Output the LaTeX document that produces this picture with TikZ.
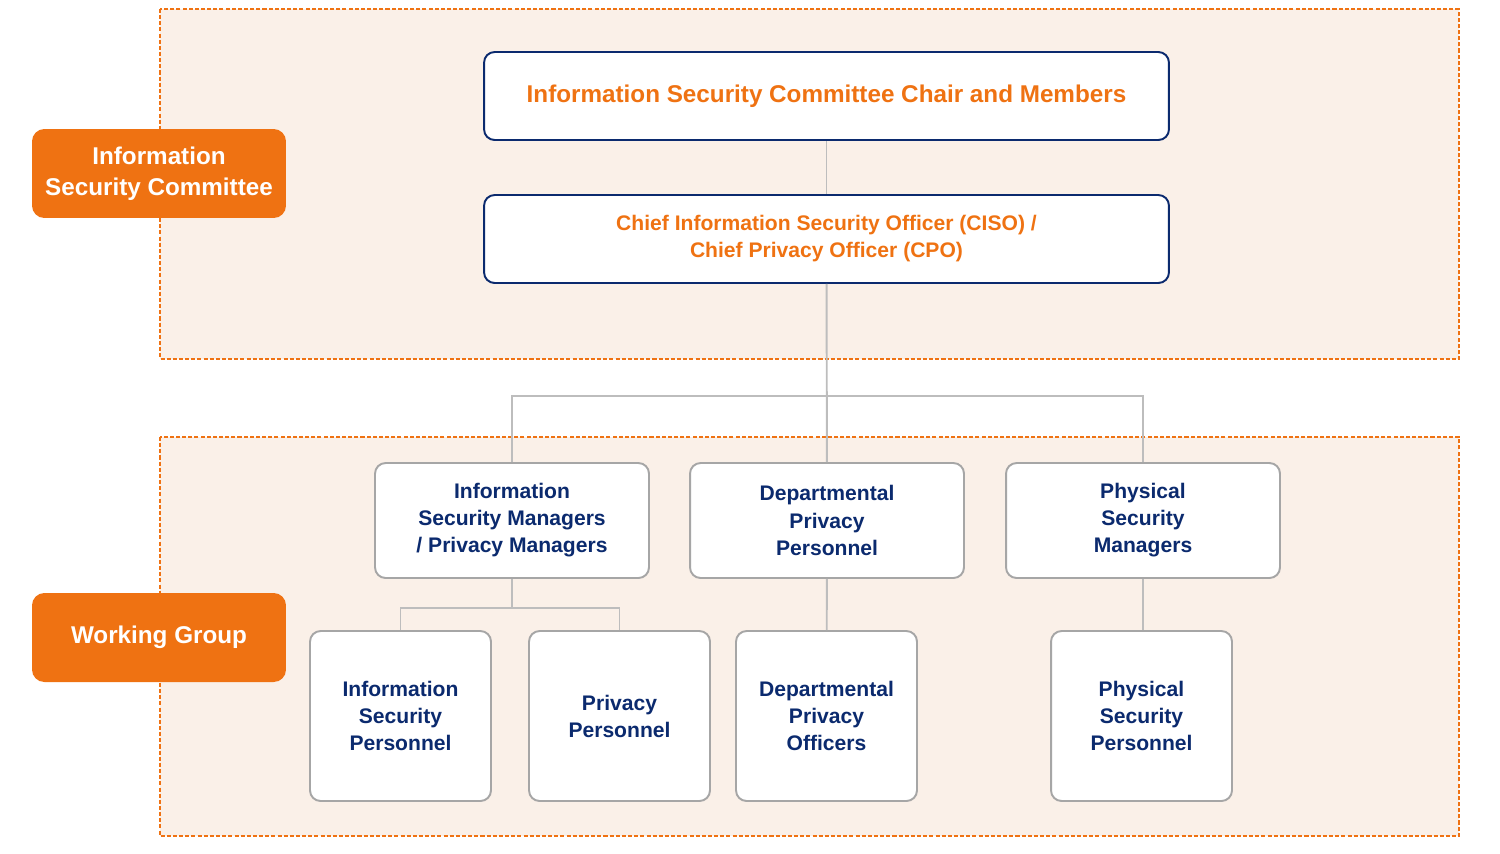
\documentclass[tikz,border=0pt]{standalone}
\usepackage{fontspec}
\setmainfont{Liberation Sans}
\definecolor{isorange}{HTML}{EF7212}
\definecolor{isnavy}{HTML}{0B2A6E}
\definecolor{isband}{HTML}{FAF0E8}
\definecolor{isgray}{HTML}{A6A6A6}
\definecolor{islink}{HTML}{BDBDBD}
\begin{document}
\begin{tikzpicture}[x=0.02cm, y=-0.02cm,
    band/.style={draw=isorange, fill=isband, dash pattern=on 2.3pt off 1.2pt, line width=0.6pt},
    tag/.style={fill=isorange, text=white, rounded corners=7pt, minimum width=5.08cm,
      minimum height=1.78cm, align=center, font=\bfseries\fontsize{13.8}{17.5}\selectfont},
    headbox/.style={draw=isnavy, fill=white, line width=1.1pt, rounded corners=6pt,
      minimum width=13.7cm, minimum height=1.76cm, align=center, text=isorange},
    midbox/.style={draw=isgray, fill=white, line width=1.1pt, rounded corners=6pt,
      minimum width=5.48cm, minimum height=2.3cm, align=center, text=isnavy,
      font=\bfseries\fontsize{12}{15.4}\selectfont},
    lowbox/.style={midbox, minimum width=3.62cm, minimum height=3.4cm},
    conn/.style={draw=islink, line width=1.1pt}]
  \useasboundingbox (0,0) rectangle (1500,853);
  % background bands
  \draw[band] (160,9) rectangle (1459,359);
  \draw[band] (160,437) rectangle (1459,836);

  % side tags
  \node[tag] (iscTag) at (159,173.5) {Information\\Security Committee};
  \node[tag] (wgTag) at (159,637.5) {Working Group};

  % committee
  \node[headbox, font=\bfseries\fontsize{13.8}{17.5}\selectfont] (chair) at (826.5,96)
    {\raisebox{-2pt}{Information Security Committee Chair and Members}};
  \node[headbox, font=\bfseries\fontsize{12}{15.4}\selectfont] (ciso) at (826.5,239)
    {Chief Information Security Officer (CISO) /\\Chief Privacy Officer (CPO)};

  % managers
  \node[midbox] (isMgr) at (512,520.5) {Information\\Security Managers\\/ Privacy Managers};
  \node[midbox] (deptPriv) at (827,520.5) {Departmental\\Privacy\\Personnel};
  \node[midbox] (physMgr) at (1143,520.5) {Physical\\Security\\Managers};

  % personnel
  \node[lowbox] (isPers) at (400.5,716) {Information\\Security\\Personnel};
  \node[lowbox] (privPers) at (619.5,716) {Privacy\\Personnel};
  \node[lowbox] (deptOff) at (826.5,716) {Departmental\\Privacy\\Officers};
  \node[lowbox] (physPers) at (1141.5,716) {Physical\\Security\\Personnel};

  % connectors
  \coordinate (bus) at (827,396);
  \coordinate (subBus) at (512,608);
  \draw[conn] (chair) -- (ciso);
  \draw[conn] (ciso) -- (deptPriv);
  \draw[conn] (isMgr.north) |- (bus) -| (physMgr.north);
  \draw[conn] (isMgr) -- (subBus);
  \draw[conn] (isPers.north) |- (subBus) -| (privPers.north);
  \draw[conn] (deptPriv) -- (deptOff);
  \draw[conn] (physMgr.south) -- (physPers.north -| physMgr.south);
\end{tikzpicture}
\end{document}
